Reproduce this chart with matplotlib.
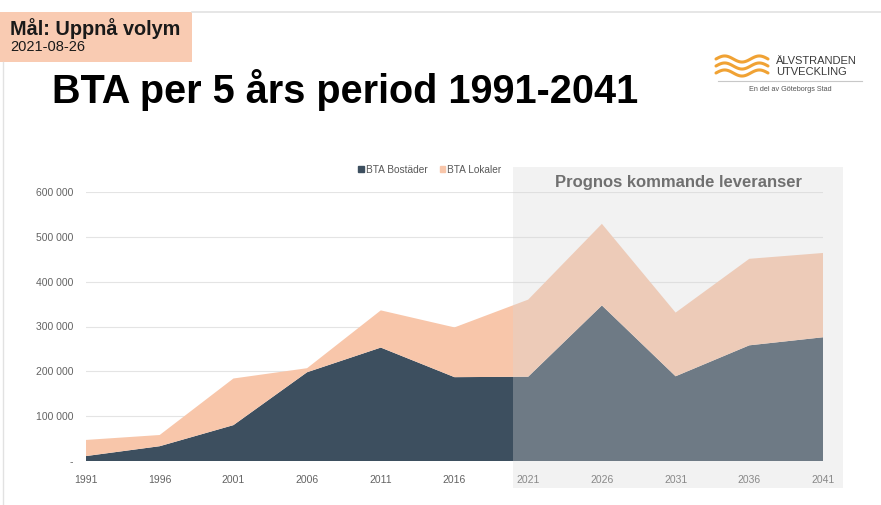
import numpy as np
import matplotlib.pyplot as plt
from matplotlib.patches import Rectangle, Patch
from matplotlib.ticker import FuncFormatter

plt.rcParams['font.family'] = ['Liberation Sans', 'DejaVu Sans']

# BTA per femårsperiod
years = [1991, 1996, 2001, 2006, 2011, 2016, 2021, 2026, 2031, 2036, 2041]
bta_bostader = [11000, 33000, 80000, 198000, 253000, 187000, 188000, 347000, 189000, 258000, 276000]
bta_lokaler = [36000, 25000, 104000, 9000, 83000, 111000, 172000, 182000, 142000, 193000, 188000]
prognos_start = 2020

DARK = '#3d4f5f'
PEACH = '#f8c6aa'
W, H = 881, 505

fig = plt.figure(figsize=(W / 100, H / 100), dpi=100)

def fx(px):
    return px / W

def fy(py):
    return 1 - py / H

# ram runt bilden
fig.add_artist(plt.Line2D([fx(192), 1], [fy(12), fy(12)], color='#e2e2e2', lw=1.2))
fig.add_artist(plt.Line2D([fx(3), fx(3)], [fy(62), 0], color='#e2e2e2', lw=1.0))

# rubrikruta uppe till vänster
fig.add_artist(Rectangle((0, fy(62)), fx(192), fy(12) - fy(62), color='#f9cbb2', lw=0))
fig.text(fx(10), fy(29), 'Mål: Uppnå volym', fontsize=14.3, fontweight='bold', color='#1a1a1a', va='center')
fig.text(fx(10), fy(47), '2021-08-26', fontsize=10.5, color='#1a1a1a', va='center')

fig.text(fx(52), fy(90), 'BTA per 5 års period 1991-2041', fontsize=28.5, fontweight='bold',
         color='black', va='center')

# logotyp
xs = np.linspace(fx(716), fx(768), 60)
for y0 in [59, 66, 73]:
    ys = fy(y0) + 0.006 * np.sin((xs - xs[0]) / (xs[-1] - xs[0]) * 2 * np.pi * 1.5)
    fig.add_artist(plt.Line2D(xs, ys, color='#f0a234', lw=2.2, solid_capstyle='round'))
fig.text(fx(776), fy(66.5), 'ÄLVSTRANDEN\nUTVECKLING', fontsize=8.0, color='#3a3a3a',
         va='center', linespacing=1.1)
fig.add_artist(plt.Line2D([fx(718), fx(862)], [fy(81), fy(81)], color='#c8c8c8', lw=0.8))
fig.text(fx(790), fy(90), 'En del av Göteborgs Stad', fontsize=5.2, color='#555555',
         ha='center', va='center')

# diagram
ax = fig.add_axes([fx(86), fy(461), fx(823) - fx(86), fy(192) - fy(461)])
ax.stackplot(years, bta_bostader, bta_lokaler, colors=[DARK, PEACH], lw=0)
ax.set_xlim(years[0], years[-1])
ax.set_ylim(0, 600000)
ax.set_xticks(years)
ax.set_yticks(np.arange(0, 600001, 100000))
ax.yaxis.set_major_formatter(FuncFormatter(
    lambda v, p: '-' if v == 0 else f'{int(v):,}'.replace(',', ' ')))
ax.grid(axis='y', color='#e4e4e4', lw=0.8)
ax.set_axisbelow(True)
for s in ax.spines.values():
    s.set_visible(False)
ax.tick_params(length=0, labelsize=7.5, colors='#636363')
ax.tick_params(axis='x', pad=10)
ax.tick_params(axis='y', pad=9)

fig.legend(handles=[Patch(color=DARK, label='BTA Bostäder'), Patch(color=PEACH, label='BTA Lokaler')],
           loc='center', bbox_to_anchor=(fx(430), fy(170)), ncol=2, frameon=False, fontsize=7.3,
           handlelength=0.55, handleheight=0.55, handletextpad=0.2, columnspacing=1.2,
           labelcolor='#595959')

# prognosområde
px0 = ax.transData.transform((prognos_start, 0))[0]
fig.add_artist(Rectangle((px0 / W, fy(488)), fx(843) - px0 / W, fy(167) - fy(488),
                         color='#d7d7d7', alpha=0.32, lw=0, zorder=1))
fig.text((px0 / W + fx(843)) / 2, fy(183), 'Prognos kommande leveranser', fontsize=12,
         fontweight='bold', color='#707070', ha='center', va='center', zorder=2)

fig.savefig('out.png', dpi=100)
